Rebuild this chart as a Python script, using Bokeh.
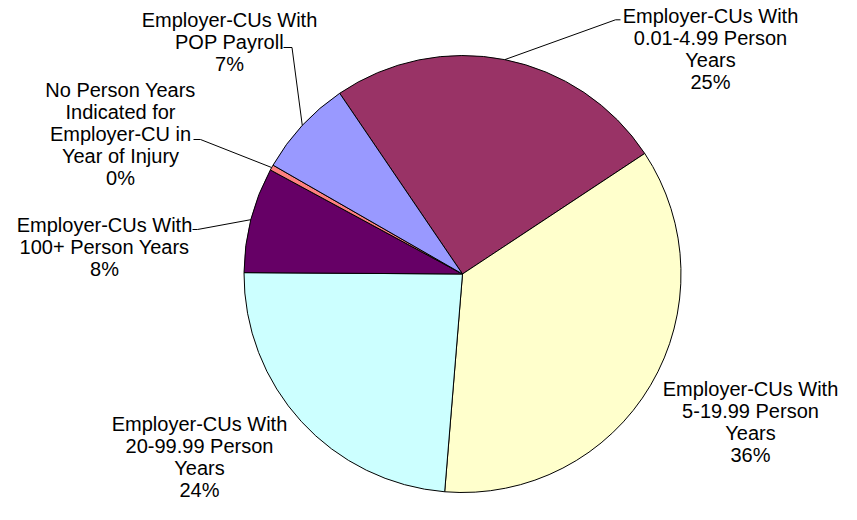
import math
from bokeh.plotting import figure
from bokeh.models import Range1d, ColumnDataSource
from bokeh.core.properties import value
from bokeh.embed import file_html
from bokeh.resources import INLINE

# ---- data ----
categories = [
    "Employer-CUs With\n0.01-4.99 Person\nYears",
    "Employer-CUs With\n5-19.99 Person\nYears",
    "Employer-CUs With\n20-99.99 Person\nYears",
    "Employer-CUs With\n100+ Person Years",
    "No Person Years\nIndicated for\nEmployer-CU in\nYear of Injury",
    "Employer-CUs With\nPOP Payroll",
]
shares = [25.2, 35.6, 23.8, 7.8, 0.4, 7.2]
colors = ["#993366", "#FFFFCC", "#CCFFFF", "#660066", "#FF8080", "#9999FF"]

# ---- layout (pixel coordinates; y measured downward) ----
W, H = 841, 504
CX, CY, R = 462.0, 273.5, 218.5
FIRST_ANGLE = 325.8  # degrees clockwise from 12 o'clock
label_pos = [(710, 48), (750, 421.5), (199, 456), (104, 246.5), (120, 133.5), (229, 41)]
leader_pts = [
    [(615, 19.3), (620, 19.3)],
    None,
    None,
    [(197, 229), (192, 229)],
    [(200, 139), (193, 139)],
    [(291.5, 47), (283, 47)],
]

p = figure(width=W, height=H, output_backend="svg", toolbar_location=None,
           x_range=Range1d(0, W), y_range=Range1d(-H, 0),
           min_border=0, outline_line_color=None)
p.axis.visible = False
p.grid.visible = False
p.background_fill_color = "white"
p.border_fill_color = "white"

total = sum(shares)
starts, ends, mids = [], [], []
acc = FIRST_ANGLE
for s in shares:
    a0 = acc
    a1 = acc + s / total * 360.0
    # convert clockwise-from-top to bokeh counterclockwise-from-+x (radians)
    starts.append(math.radians(90 - a1))
    ends.append(math.radians(90 - a0))
    mids.append((a0 + a1) / 2)
    acc = a1

src = ColumnDataSource(dict(start=starts, end=ends, color=colors))
p.wedge(x=CX, y=-CY, radius=R, radius_units="screen", start_angle="start", end_angle="end",
        fill_color="color", line_color="black", line_width=1, source=src)

# leader lines
for i, pts in enumerate(leader_pts):
    if pts is None:
        continue
    m = math.radians(mids[i])
    ex = CX + R * math.sin(m)
    ey = CY - R * math.cos(m)
    xs = [ex] + [q[0] for q in pts]
    ys = [-ey] + [-q[1] for q in pts]
    p.line(xs, ys, line_color="black", line_width=1)

labels = [f"{c}\n{round(s / total * 100)}%" for c, s in zip(categories, shares)]
p.text(x=[q[0] for q in label_pos], y=[-q[1] for q in label_pos], text=labels,
       text_align="center", text_baseline="middle", text_font=value("Liberation Sans"),
       text_font_size="20px", text_line_height=1.0, text_color="black")

open("out.html", "w").write(file_html(p, INLINE))
